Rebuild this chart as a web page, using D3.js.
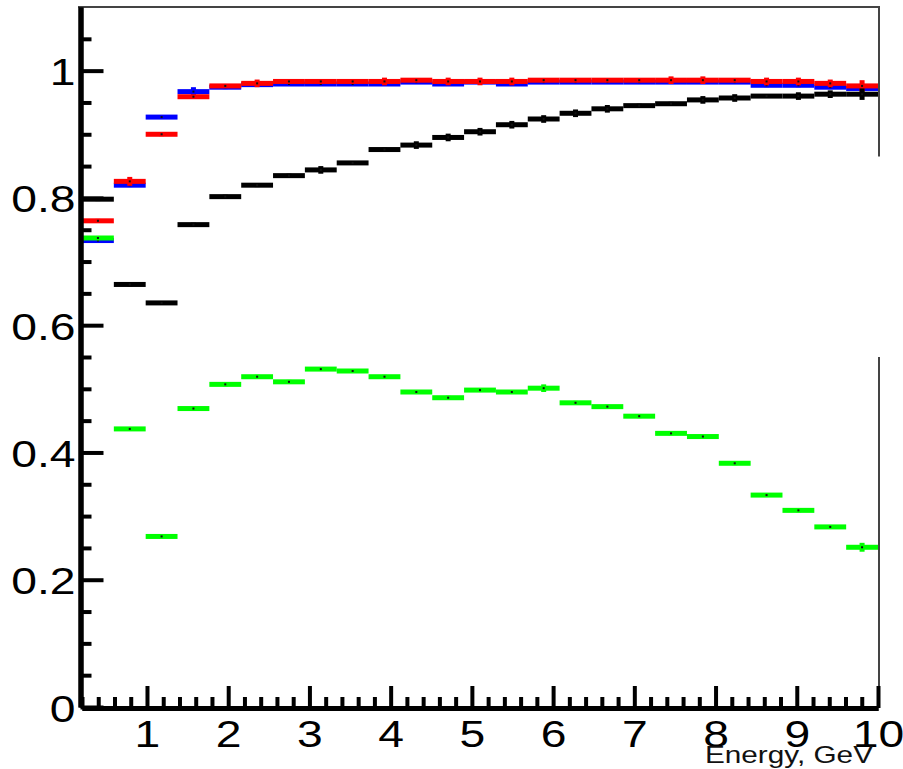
<!DOCTYPE html>
<html>
<head>
<meta charset="utf-8">
<script src="https://cdn.jsdelivr.net/npm/d3@7"></script>
<style>
  html, body { margin: 0; padding: 0; background: #ffffff; }
  svg { display: block; }
</style>
</head>
<body>
<script>
// Histogram binning: 25 equal bins between 0.2 and 10 GeV
const xMin = 0.2, xMax = 10, nBins = 25;

// Per-bin efficiencies for the four samples
const redValues = [0.764, 0.826, 0.900, 0.959, 0.976, 0.980, 0.983, 0.983, 0.983, 0.983,
                   0.985, 0.983, 0.983, 0.983, 0.985, 0.985, 0.985, 0.985, 0.985, 0.985,
                   0.985, 0.983, 0.983, 0.980, 0.976];
const blueValues = [0.733, 0.820, 0.927, 0.967, 0.974, 0.978, 0.979, 0.979, 0.979, 0.979,
                    0.982, 0.979, 0.982, 0.979, 0.982, 0.982, 0.982, 0.982, 0.982, 0.982,
                    0.982, 0.977, 0.977, 0.974, 0.972];
const blackValues = [0.798, 0.664, 0.635, 0.758, 0.802, 0.820, 0.835, 0.844, 0.855, 0.876,
                     0.883, 0.895, 0.904, 0.915, 0.924, 0.933, 0.940, 0.945, 0.948, 0.954,
                     0.957, 0.960, 0.960, 0.963, 0.963];
const greenValues = [0.737, 0.437, 0.268, 0.469, 0.507, 0.519, 0.511, 0.531, 0.528, 0.519,
                     0.495, 0.486, 0.498, 0.495, 0.501, 0.478, 0.472, 0.457, 0.430, 0.425,
                     0.383, 0.333, 0.309, 0.283, 0.251];

// Statistical errors per bin
const redErrors = [0.003, 0.007, 0.003, 0.003, 0.003, 0.006, 0.003, 0.003, 0.003, 0.006,
                   0.003, 0.006, 0.006, 0.006, 0.003, 0.003, 0.003, 0.003, 0.006, 0.006,
                   0.003, 0.006, 0.006, 0.006, 0.009];
const blueErrors = [0.003, 0.003, 0.003, 0.007, 0.003, 0.003, 0.003, 0.003, 0.003, 0.003,
                    0.003, 0.003, 0.003, 0.003, 0.003, 0.003, 0.003, 0.003, 0.003, 0.003,
                    0.003, 0.003, 0.003, 0.003, 0.003];
const blackErrors = [0.003, 0.003, 0.003, 0.003, 0.003, 0.003, 0.003, 0.006, 0.003, 0.003,
                     0.006, 0.006, 0.006, 0.006, 0.006, 0.006, 0.006, 0.003, 0.003, 0.006,
                     0.006, 0.003, 0.006, 0.006, 0.009];
const greenErrors = [0.003, 0.003, 0.003, 0.003, 0.003, 0.003, 0.003, 0.003, 0.003, 0.003,
                     0.003, 0.003, 0.003, 0.003, 0.006, 0.003, 0.003, 0.003, 0.003, 0.003,
                     0.003, 0.003, 0.003, 0.003, 0.007];

// Axis ticks and labels
const xMajorTicks = [1, 2, 3, 4, 5, 6, 7, 8, 9, 10];
const xTickLabels = ["1", "2", "3", "4", "5", "6", "7", "8", "9", "10"];
const yMajorTicks = [0, 0.2, 0.4, 0.6, 0.8, 1];
const yTickLabels = ["0", "0.2", "0.4", "0.6", "0.8", "1"];
const xTitle = "Energy, GeV";

const W = 903, H = 769;
const FONT = "'Liberation Sans', Arial, Helvetica, sans-serif";

const svg = d3.select("body").append("svg")
  .attr("width", W).attr("height", H);

const x = d3.scaleLinear().domain([xMin, xMax]).range([82, 878]);
const y = d3.scaleLinear().domain([0, 1.1]).range([707, 7]);
const binWidth = (xMax - xMin) / nBins;
const binLo = i => xMin + i * binWidth;
const binHi = i => xMin + (i + 1) * binWidth;

const series = [
  { values: blueValues,  errors: blueErrors,  color: "#0000ff" },
  { values: redValues,   errors: redErrors,   color: "#ff0000" },
  { values: greenValues, errors: greenErrors, color: "#00ff00" },
  { values: blackValues, errors: blackErrors, color: "#000000" }
];

const barHalf = 2.5;   // half thickness of the horizontal bin bar (px)
const errHalfW = 2.5;  // half width of the vertical error bar (px)

const plot = svg.append("g");

series.forEach(s => {
  const g = plot.append("g");
  const bins = s.values.map((v, i) => ({ i, v, e: s.errors[i] }));

  // horizontal bin-width bars
  g.selectAll("rect.bar").data(bins).join("rect")
    .attr("class", "bar")
    .attr("x", d => x(binLo(d.i)))
    .attr("width", d => x(binHi(d.i)) - x(binLo(d.i)))
    .attr("y", d => y(d.v) - barHalf)
    .attr("height", barHalf * 2)
    .attr("fill", s.color);

  // vertical error bars
  g.selectAll("rect.err").data(bins).join("rect")
    .attr("class", "err")
    .attr("x", d => x((binLo(d.i) + binHi(d.i)) / 2) - errHalfW)
    .attr("width", errHalfW * 2)
    .attr("y", d => y(d.v + d.e))
    .attr("height", d => y(d.v - d.e) - y(d.v + d.e))
    .attr("fill", s.color);

  // marker at bin centre
  g.selectAll("rect.dot").data(bins).join("rect")
    .attr("class", "dot")
    .attr("x", d => x((binLo(d.i) + binHi(d.i)) / 2) - 1)
    .attr("width", 2)
    .attr("y", d => y(d.v) - 1)
    .attr("height", 2)
    .attr("fill", "#111");
});

// Frame: top edge and the right edge segments
const frameColor = "#444";
svg.append("line")
  .attr("x1", x(xMin) - 4).attr("x2", x(xMax) + 2)
  .attr("y1", y(1.1)).attr("y2", y(1.1))
  .attr("stroke", frameColor).attr("stroke-width", 2);
const rightSegments = [[1.1, 0.865], [0.55, 0]];
svg.selectAll("line.rframe").data(rightSegments).join("line")
  .attr("class", "rframe")
  .attr("x1", x(xMax) + 1).attr("x2", x(xMax) + 1)
  .attr("y1", d => y(d[0])).attr("y2", d => y(d[1]))
  .attr("stroke", frameColor).attr("stroke-width", 2);

// Axes
const axisX0 = 80.5, axisY0 = 708;
const tickWidth = 4;

function styleAxis(g) {
  g.selectAll(".domain").attr("stroke", "#000").attr("stroke-width", 5);
  g.selectAll(".tick line").attr("stroke", "#000").attr("stroke-width", tickWidth);
}

// y minor ticks
const yMinor = d3.range(1, 22).map(k => k * 0.05).filter(v => Math.abs(v * 5 - Math.round(v * 5)) > 1e-6);
svg.append("g")
  .attr("transform", `translate(${axisX0},0)`)
  .call(d3.axisLeft(y).tickValues(yMinor).tickSize(-11).tickSizeOuter(0).tickFormat(""))
  .call(styleAxis);

// y major ticks + labels
const yAxisG = svg.append("g")
  .attr("transform", `translate(${axisX0},0)`)
  .call(d3.axisLeft(y).tickValues(yMajorTicks).tickSize(-23).tickSizeOuter(0)
        .tickFormat((d, i) => yTickLabels[i]))
  .call(styleAxis);
yAxisG.selectAll(".tick text")
  .attr("x", null).attr("dy", null)
  .attr("transform", "translate(-5,14) scale(1.25,1)")
  .attr("text-anchor", "end")
  .attr("fill", "#000")
  .style("font-family", FONT).style("font-size", "37px");

// x minor ticks
const xMinor = d3.range(2, 100, 2).map(k => k / 10).filter(v => Math.abs(v - Math.round(v)) > 1e-6);
svg.append("g")
  .attr("transform", `translate(0,${axisY0})`)
  .call(d3.axisBottom(x).tickValues(xMinor).tickSize(-11).tickSizeOuter(0).tickFormat(""))
  .call(styleAxis);

// x major ticks + labels
const xAxisG = svg.append("g")
  .attr("transform", `translate(0,${axisY0})`)
  .call(d3.axisBottom(x).tickValues(xMajorTicks).tickSize(-22).tickSizeOuter(0)
        .tickFormat((d, i) => xTickLabels[i]))
  .call(styleAxis);
xAxisG.selectAll(".tick text")
  .attr("y", null).attr("dy", null)
  .attr("transform", "translate(0,39) scale(1.25,1)")
  .attr("text-anchor", "middle")
  .attr("fill", "#000")
  .style("font-family", FONT).style("font-size", "37px");

// x-axis title
svg.append("text")
  .attr("transform", `translate(${x(xMax) - 5},763) scale(1.24,1)`)
  .attr("text-anchor", "end")
  .attr("fill", "#111")
  .style("font-family", FONT).style("font-size", "24px")
  .text(xTitle);
</script>
</body>
</html>
